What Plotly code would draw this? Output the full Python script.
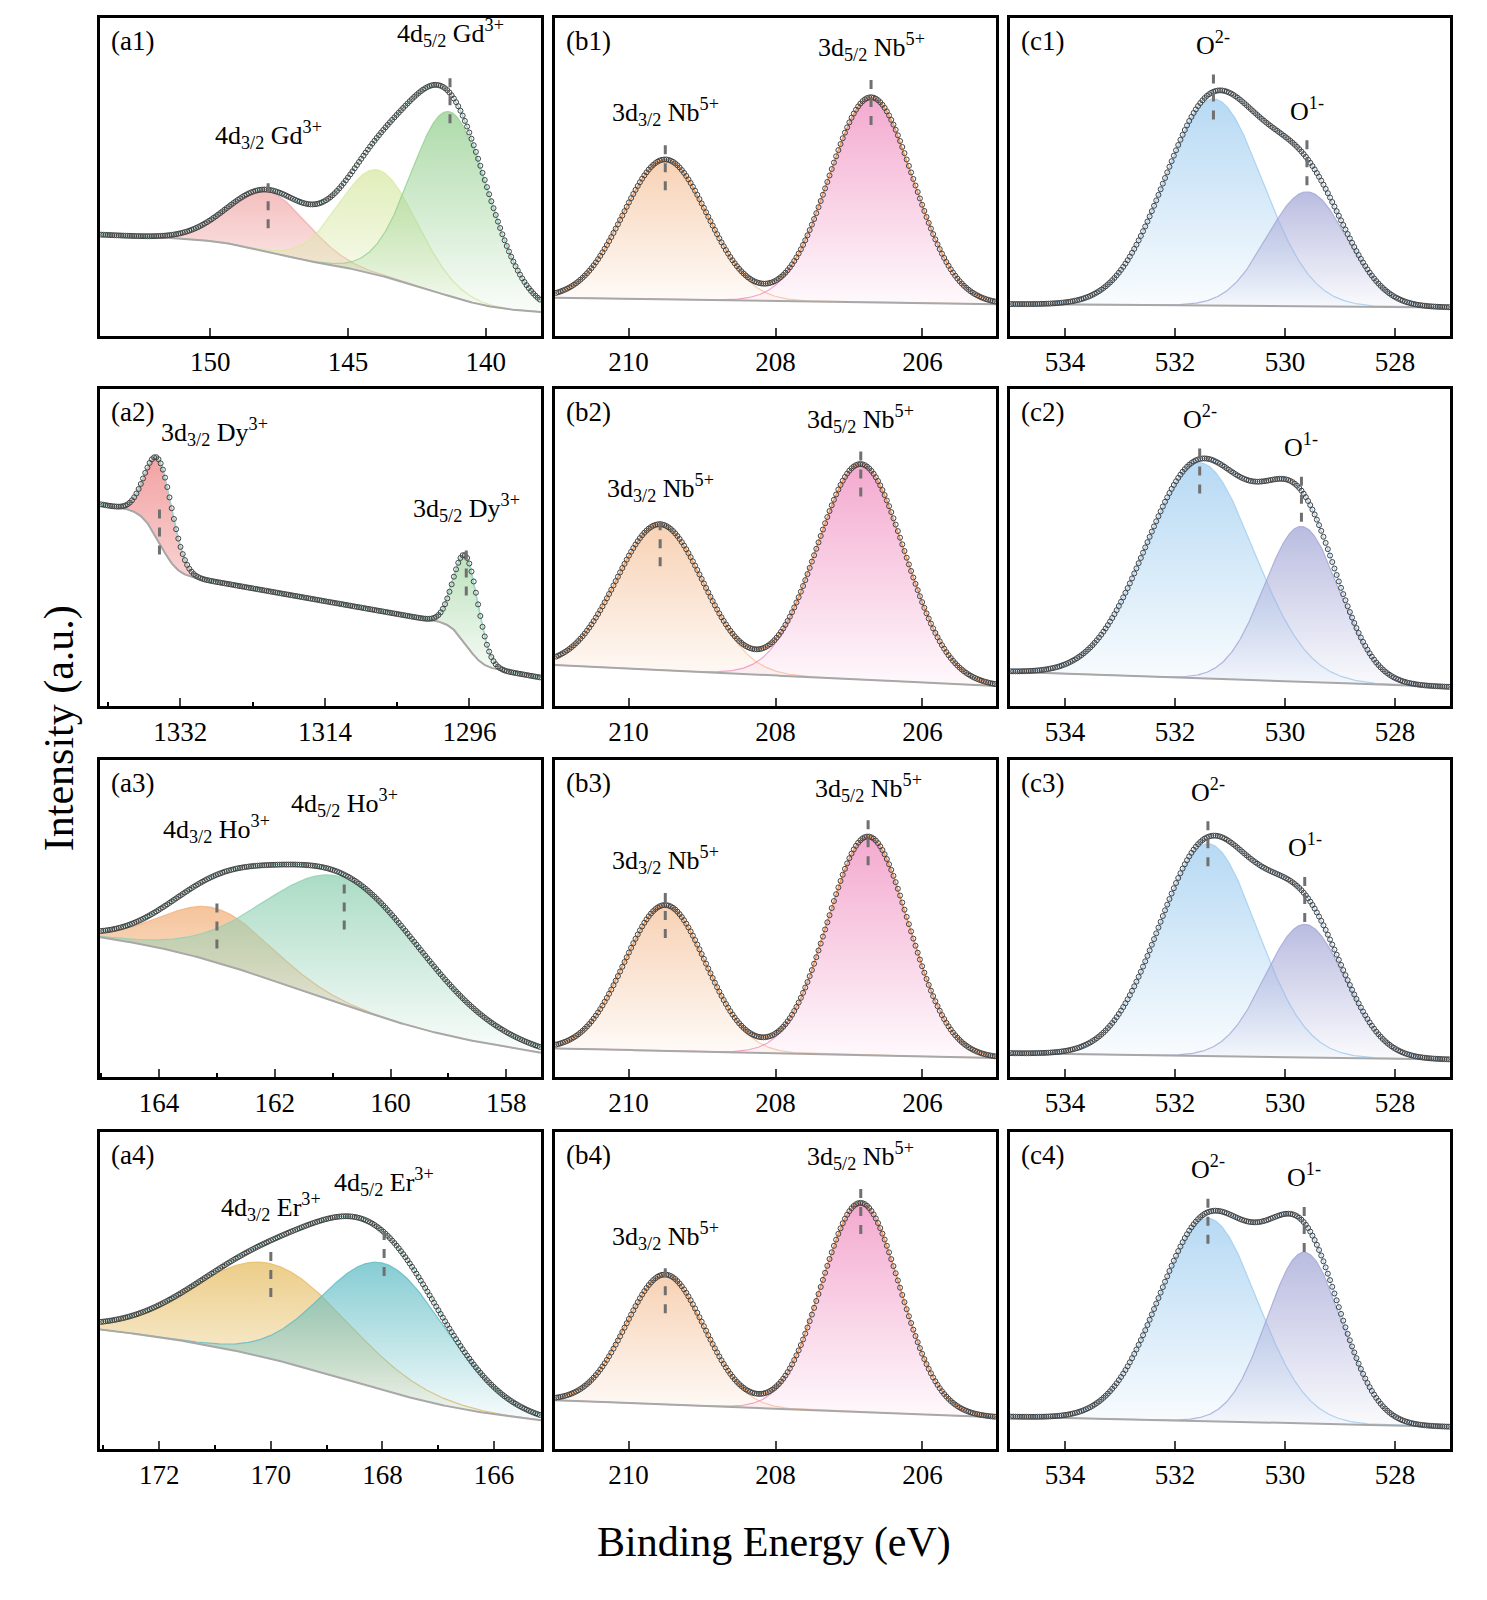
import math
import numpy as np
import plotly.graph_objects as go
from plotly.subplots import make_subplots

# peaks: (centre eV, height, FWHM eV); background: (right level, slope per eV, step per peak)
A1_PEAKS = [(147.9, 0.19, 3.4), (143.9, 0.33, 3.3), (141.3, 0.58, 3.3)]
A1_BG = (0.075, 0.004, [0.06, 0.05, 0.07])
A2_PEAKS = [(1334.6, 0.26, 4.0), (1296.4, 0.28, 3.6)]
A2_BG = (0.09, 0.0045, [0.18, 0.12])
A3_PEAKS = [(163.0, 0.17, 2.2), (160.8, 0.40, 3.2)]
A3_BG = (0.076, 0.027, [0.04, 0.12])
A4_PEAKS = [(170.0, 0.30, 3.2), (167.97, 0.40, 2.6)]
A4_BG = (0.09, 0.02, [0.06, 0.07])

B1_PEAKS = [(209.5, 0.44, 1.35), (206.7, 0.645, 1.35)]
B1_BG = (0.10, 0.0034, [0.0, 0.0])
B2_PEAKS = [(209.57, 0.46, 1.4), (206.84, 0.68, 1.4)]
B2_BG = (0.063, 0.011, [0.0, 0.0])
B3_PEAKS = [(209.5, 0.46, 1.3), (206.74, 0.69, 1.3)]
B3_BG = (0.06, 0.005, [0.0, 0.0])
B4_PEAKS = [(209.5, 0.41, 1.25), (206.84, 0.66, 1.25)]
B4_BG = (0.10, 0.009, [0.0, 0.0])

C1_PEAKS = [(531.3, 0.65, 2.1), (529.6, 0.36, 1.7)]
C1_BG = (0.09, 0.0013, [0.0, 0.0])
C2_PEAKS = [(531.55, 0.68, 2.3), (529.7, 0.49, 1.6)]
C2_BG = (0.06, 0.006, [0.0, 0.0])
C3_PEAKS = [(531.4, 0.67, 2.1), (529.64, 0.42, 1.7)]
C3_BG = (0.055, 0.0025, [0.0, 0.0])
C4_PEAKS = [(531.4, 0.64, 2.1), (529.65, 0.54, 1.6)]
C4_BG = (0.07, 0.004, [0.0, 0.0])

A_RANGES = [(154.0, 138.0), (1342.0, 1287.1), (165.02, 157.4), (173.06, 165.16)]
B_RANGE = (211.0, 205.0)
C_RANGE = (535.0, 527.0)
A_TICKS = [[150, 145, 140], [1332, 1314, 1296], [164, 162, 160, 158], [172, 170, 168, 166]]
A_MINOR = [None, 9, 1, 1]
B_TICKS = [210, 208, 206]
C_TICKS = [534, 532, 530, 528]

A_COLORS = [["#f1a9a9", "#d7e8a3", "#93cf8e"], ["#ee8484", "#86c986"],
            ["#f2b07a", "#8fd0b2"], ["#e6bd62", "#5dbcc4"]]
B_COLORS = ["#f5c29b", "#f08dbf"]
C_COLORS = ["#9fcdf0", "#a3a6d6"]

A_LABELS = [
    [("4d<sub>3/2</sub> Gd<sup>3+</sup>", 147.9, 0.57), ("4d<sub>5/2</sub> Gd<sup>3+</sup>", 141.3, 0.89)],
    [("3d<sub>3/2</sub> Dy<sup>3+</sup>", 1334.6, 0.8), ("3d<sub>5/2</sub> Dy<sup>3+</sup>", 1296.4, 0.56)],
    [("4d<sub>3/2</sub> Ho<sup>3+</sup>", 163.0, 0.72), ("4d<sub>5/2</sub> Ho<sup>3+</sup>", 160.8, 0.8)],
    [("4d<sub>3/2</sub> Er<sup>3+</sup>", 170.0, 0.7), ("4d<sub>5/2</sub> Er<sup>3+</sup>", 167.97, 0.78)],
]
NB_LABELS = ["3d<sub>3/2</sub> Nb<sup>5+</sup>", "3d<sub>5/2</sub> Nb<sup>5+</sup>"]
O_LABELS = ["O<sup>2-</sup>", "O<sup>1-</sup>"]

FONT = "Liberation Serif"

panels = [
    ("a1", A1_PEAKS, A1_BG, A_RANGES[0], A_COLORS[0]),
    ("b1", B1_PEAKS, B1_BG, B_RANGE, B_COLORS),
    ("c1", C1_PEAKS, C1_BG, C_RANGE, C_COLORS),
    ("a2", A2_PEAKS, A2_BG, A_RANGES[1], A_COLORS[1]),
    ("b2", B2_PEAKS, B2_BG, B_RANGE, B_COLORS),
    ("c2", C2_PEAKS, C2_BG, C_RANGE, C_COLORS),
    ("a3", A3_PEAKS, A3_BG, A_RANGES[2], A_COLORS[2]),
    ("b3", B3_PEAKS, B3_BG, B_RANGE, B_COLORS),
    ("c3", C3_PEAKS, C3_BG, C_RANGE, C_COLORS),
    ("a4", A4_PEAKS, A4_BG, A_RANGES[3], A_COLORS[3]),
    ("b4", B4_PEAKS, B4_BG, B_RANGE, B_COLORS),
    ("c4", C4_PEAKS, C4_BG, C_RANGE, C_COLORS),
]


def model(x, peaks, bg):
    right, slope, steps = bg
    base = right + slope * (x - x.min())
    comps = []
    for (c, h, w), s in zip(peaks, steps):
        sig = w / 2.3548
        base = base + s * 0.5 * (1 + np.vectorize(math.erf)((x - c) / (sig * math.sqrt(2))))
        comps.append(h * np.exp(-(x - c) ** 2 / (2 * sig ** 2)))
    return base, comps


def rgba(hexc, a):
    r, g, b = int(hexc[1:3], 16), int(hexc[3:5], 16), int(hexc[5:7], 16)
    return f"rgba({r},{g},{b},{a})"


fig = make_subplots(rows=4, cols=3)

X_DOM = [(0.0619, 0.3584), (0.3679, 0.6644), (0.6738, 0.9697)]
Y_DOM = [(0.795, 0.99375), (0.5638, 0.7619), (0.3319, 0.53), (0.0994, 0.2975)]

for i, (tag, peaks, bg, xr, colors) in enumerate(panels):
    row, col = i // 3 + 1, i % 3 + 1
    lo, hi = min(xr), max(xr)
    step = (hi - lo) / 200
    x = np.arange(lo + step * 0.5, hi, step)
    xf = np.linspace(lo, hi, 600)
    base, comps = model(xf, peaks, bg)
    for comp, colr in zip(comps, colors):
        fig.add_trace(go.Scatter(x=xf, y=base, mode="lines", line=dict(width=0),
                                 showlegend=False, hoverinfo="skip"), row=row, col=col)
        fig.add_trace(go.Scatter(
            x=xf, y=base + comp, mode="lines", line=dict(color=rgba(colr, 0.8), width=1.2),
            fill="tonexty",
            fillgradient=dict(type="vertical",
                              colorscale=[[0, rgba(colr, 0.05)], [1, rgba(colr, 0.75)]]),
            showlegend=False, hoverinfo="skip"), row=row, col=col)
    fig.add_trace(go.Scatter(x=xf, y=base, mode="lines", line=dict(color="#a8a8a8", width=2),
                             showlegend=False), row=row, col=col)
    fit_color = "#f0a060" if tag.startswith("b") else ("#9fd6d0" if tag.startswith("a") else "#b8d8f0")
    fig.add_trace(go.Scatter(x=xf, y=base + sum(comps), mode="lines",
                             line=dict(color=fit_color, width=1.5), showlegend=False), row=row, col=col)
    bd, cd = model(x, peaks, bg)
    fig.add_trace(go.Scatter(x=x, y=bd + sum(cd), mode="markers",
                             marker=dict(symbol="circle-open", size=5, color="#444444",
                                         line=dict(width=1)),
                             showlegend=False), row=row, col=col)

    n = i + 1
    xa = "xaxis" if n == 1 else f"xaxis{n}"
    ya = "yaxis" if n == 1 else f"yaxis{n}"
    xref = "x" if n == 1 else f"x{n}"
    yref = "y" if n == 1 else f"y{n}"
    if tag.startswith("a"):
        k = int(tag[1]) - 1
        ticks, minor = A_TICKS[k], A_MINOR[k]
    elif tag.startswith("b"):
        ticks, minor = B_TICKS, None
    else:
        ticks, minor = C_TICKS, None
    xopts = dict(range=list(xr), domain=X_DOM[col - 1], tickvals=ticks, ticks="inside",
                 ticklen=8, tickwidth=2, showline=True, linecolor="black", linewidth=2.5,
                 mirror=True, showgrid=False, zeroline=False,
                 tickfont=dict(family=FONT, size=27, color="black"), anchor=yref)
    if minor:
        xopts["minor"] = dict(dtick=minor, tick0=ticks[-1], ticks="inside", ticklen=4,
                              tickwidth=1.5, tickcolor="black")
    fig.update_layout({xa: xopts,
                       ya: dict(range=[0, 1], domain=Y_DOM[row - 1], showticklabels=False,
                                ticks="", showline=True, linecolor="black", linewidth=2.5,
                                mirror=True, showgrid=False, zeroline=False, anchor=xref)})

    fig.add_annotation(x=0.02, y=0.98, xref=f"{xref} domain", yref=f"{yref} domain",
                       text=f"({tag})", showarrow=False, xanchor="left", yanchor="top",
                       font=dict(family=FONT, size=27, color="black"))

    if tag.startswith("a"):
        labels = A_LABELS[int(tag[1]) - 1]
    elif tag.startswith("b"):
        labels = [(t, c, None) for t, (c, h, w) in zip(NB_LABELS, peaks)]
    else:
        labels = [(t, c, None) for t, (c, h, w) in zip(O_LABELS, peaks)]
    for j, (text, cx, ly) in enumerate(labels):
        b0, c0 = model(np.array([cx, cx + 1e-3]), peaks, bg)
        env = float((b0 + sum(c0))[0])
        if ly is None:
            ly = env + 0.1
        fig.add_shape(type="line", x0=cx, x1=cx, y0=env + 0.06, y1=env - 0.1,
                      xref=xref, yref=yref, line=dict(color="#707070", width=3, dash="dash"))
        xanchor = "center"
        if tag == "a2" and j == 0:
            xanchor = "left"
        fig.add_annotation(x=cx, y=ly, xref=xref, yref=yref, text=text, showarrow=False,
                           xanchor=xanchor, yanchor="bottom",
                           font=dict(family=FONT, size=26, color="black"))

fig.add_annotation(x=0.018, y=0.55, xref="paper", yref="paper", text="Intensity (a.u.)",
                   textangle=-90, showarrow=False, font=dict(family=FONT, size=42, color="black"))
fig.add_annotation(x=0.515, y=0.025, xref="paper", yref="paper", text="Binding Energy (eV)",
                   showarrow=False, font=dict(family=FONT, size=42, color="black"))

fig.update_layout(width=1487, height=1600, margin=dict(l=0, r=0, t=0, b=0),
                  plot_bgcolor="white", paper_bgcolor="white", showlegend=False)
fig.write_html("out.html")
